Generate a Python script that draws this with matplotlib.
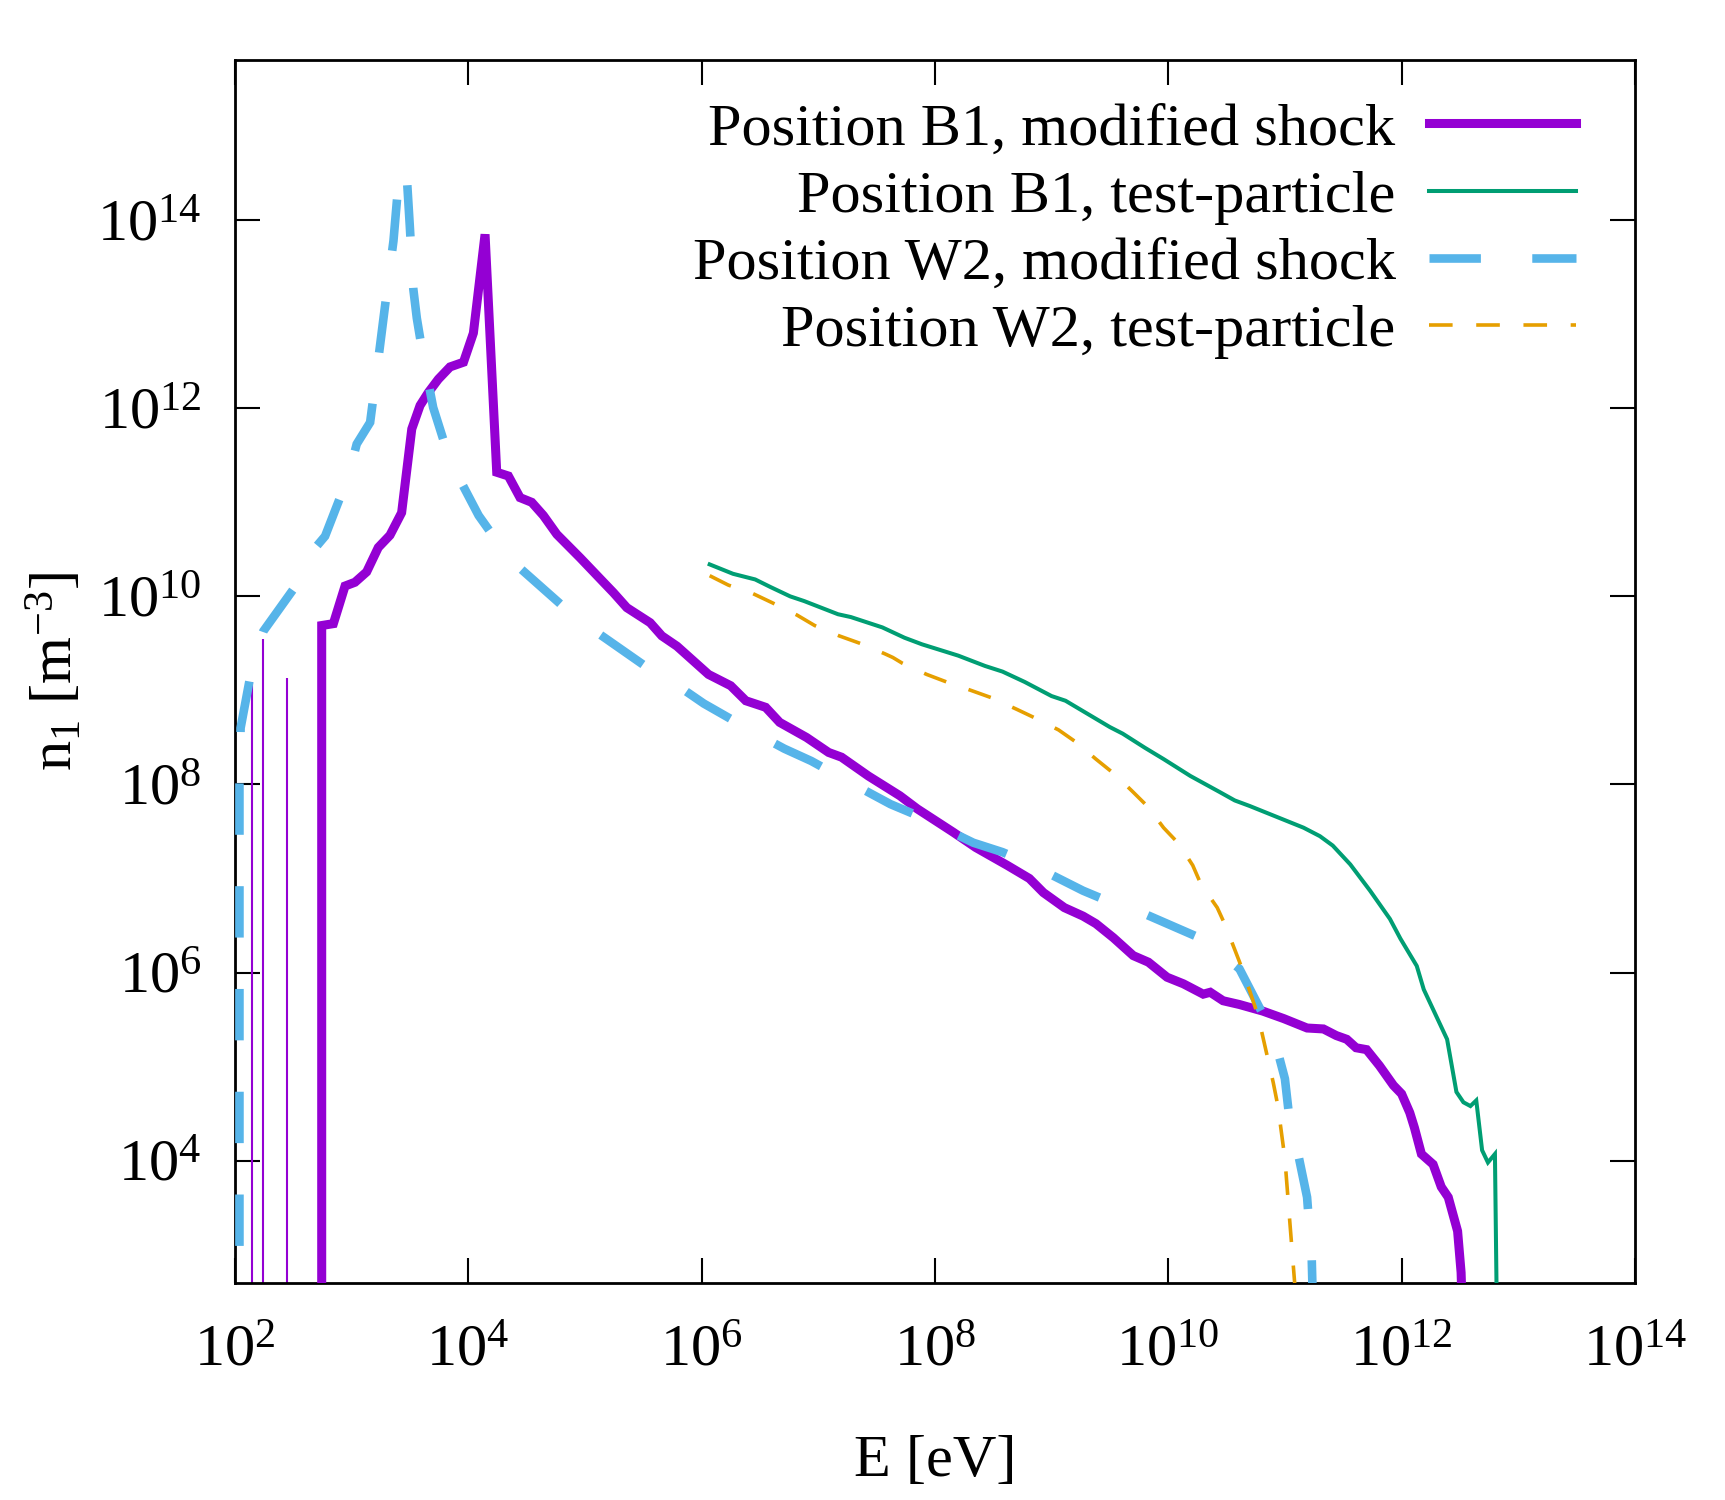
import numpy as np
import matplotlib
matplotlib.use("Agg")
import matplotlib.pyplot as plt
from matplotlib.ticker import FixedLocator, FuncFormatter

# ---------------- data (log10 values) ----------------
# Position B1, modified shock
b1_mod_logE = [2.745, 2.745, 2.845, 2.945, 3.03, 3.13, 3.23, 3.33, 3.43, 3.517, 3.588,
               3.66, 3.745, 3.845, 3.96, 4.045, 4.145, 4.245, 4.345, 4.445, 4.545,
               4.645, 4.76, 4.96, 5.16, 5.245, 5.36, 5.56, 5.66, 5.79, 6.06, 6.25,
               6.38, 6.55, 6.67, 6.90, 7.09, 7.20, 7.43, 7.70, 7.85, 8.16, 8.35, 8.62,
               8.81, 8.93, 9.11, 9.27, 9.38, 9.53, 9.70, 9.83, 9.99, 10.13, 10.30,
               10.36, 10.47, 10.61, 10.81, 10.99, 11.07, 11.19, 11.33, 11.44, 11.53,
               11.61, 11.70, 11.81, 11.93, 12.00, 12.07, 12.11, 12.17, 12.27, 12.34,
               12.40, 12.48, 12.51, 12.53]
b1_mod_logN = [2.0, 9.69, 9.71, 10.11, 10.15, 10.26, 10.52, 10.65, 10.89, 11.78, 12.03,
               12.17, 12.31, 12.44, 12.49, 12.80, 13.85, 11.32, 11.28, 11.05, 11.0,
               10.86, 10.66, 10.41, 10.15, 10.04, 9.88, 9.72, 9.58, 9.47, 9.17, 9.05,
               8.89, 8.82, 8.66, 8.50, 8.34, 8.29, 8.09, 7.88, 7.74, 7.49, 7.33, 7.14,
               7.0, 6.85, 6.69, 6.60, 6.52, 6.37, 6.18, 6.11, 5.95, 5.88, 5.77,
               5.79, 5.70, 5.66, 5.59, 5.51, 5.47, 5.41, 5.40, 5.33, 5.29,
               5.20, 5.18, 5.01, 4.80, 4.71, 4.51, 4.35, 4.07, 3.96, 3.72,
               3.61, 3.25, 2.81, 2.0]

# thin purple spikes at low energy (B1, modified shock)
b1_spike_logE = [2.146, 2.245, 2.446]
b1_spike_logN = [9.09, 9.55, 9.13]

# Position B1, test-particle
b1_tp_logE = [6.07, 6.27, 6.46, 6.59, 6.76, 6.88, 7.17, 7.28, 7.55, 7.74, 7.89, 8.20,
              8.43, 8.58, 8.77, 9.00, 9.12, 9.50, 9.61, 9.80, 9.96, 10.19, 10.44,
              10.57, 10.70, 10.90, 11.16, 11.30, 11.41, 11.56, 11.73, 11.90, 11.99,
              12.13, 12.19, 12.39, 12.47, 12.53, 12.59, 12.64, 12.69, 12.74, 12.80,
              12.82]
b1_tp_logN = [10.34, 10.24, 10.18, 10.10, 10.0, 9.95, 9.81, 9.78, 9.67, 9.56, 9.49, 9.37,
              9.26, 9.20, 9.09, 8.94, 8.89, 8.61, 8.54, 8.39, 8.27, 8.09, 7.92,
              7.83, 7.77, 7.67, 7.54, 7.45, 7.35, 7.15, 6.87, 6.57, 6.36,
              6.07, 5.82, 5.29, 4.73, 4.62, 4.58, 4.64, 4.11, 3.98, 4.07,
              2.0]

# Position W2, modified shock
w2_mod_logE = [2.04, 2.04, 2.05, 2.13, 2.174, 2.245, 2.545, 2.645, 2.774, 2.974, 3.045,
               3.16, 3.23, 3.29, 3.36, 3.40, 3.44, 3.47, 3.50, 3.53, 3.56, 3.60, 3.70,
               3.845, 4.09, 4.245, 4.39, 4.79, 4.96, 5.17, 5.62, 5.75, 6.02, 6.50,
               6.71, 6.94, 7.41, 7.62, 7.85, 8.33, 8.58, 8.79, 9.27, 9.54, 9.73,
               10.23, 10.32, 10.61, 10.86, 10.93, 11.0, 11.06, 11.11, 11.19, 11.23,
               11.25]
w2_mod_logN = [2.0, 8.0, 8.6, 9.13, 9.38, 9.63, 10.15, 10.45, 10.64, 11.28, 11.62,
               11.85, 12.52, 13.11, 13.78, 14.36, 14.38, 14.55, 13.94, 13.27, 12.96, 12.66, 12.01,
               11.44, 10.86, 10.59, 10.36, 9.92, 9.74, 9.56, 9.17, 9.09, 8.86, 8.52,
               8.38, 8.25, 7.93, 7.79, 7.67, 7.38, 7.28, 7.17, 6.87, 6.73, 6.66,
               6.39, 6.33, 6.04, 5.44, 5.20, 4.87, 4.21, 4.09, 3.61, 2.95,
               2.0]

# Position W2, test-particle
w2_tp_logE = [6.07, 6.23, 6.44, 6.61, 6.82, 6.97, 7.18, 7.36, 7.57, 7.64, 7.72, 7.93,
              8.10, 8.31, 8.49, 8.70, 8.87, 9.06, 9.21, 9.38, 9.54, 9.69, 9.82, 9.96,
              10.09, 10.21, 10.28, 10.42, 10.49, 10.64, 10.77, 10.90, 10.94, 11.00,
              11.04, 11.09]
w2_tp_logN = [10.22, 10.12, 10.03, 9.93, 9.80, 9.69, 9.58, 9.50, 9.39, 9.35, 9.29, 9.17,
              9.09, 9.0, 8.92, 8.80, 8.70, 8.58, 8.45, 8.27, 8.11, 7.93, 7.77, 7.54,
              7.37, 7.14, 6.94, 6.69, 6.50, 6.02, 5.54, 4.83, 4.58, 4.02,
              3.38, 2.6]

labels = ["Position B1, modified shock", "Position B1, test-particle",
          "Position W2, modified shock", "Position W2, test-particle"]
colors = ["#9400D3", "#009E73", "#56B4E9", "#E69F00"]

x_tick_exp = [2, 4, 6, 8, 10, 12, 14]
y_tick_exp = [4, 6, 8, 10, 12, 14]
x_lim = (1e2, 1e14)
y_lim = (5e2, 5e15)

# ---------------- style ----------------
plt.rcParams['font.family'] = ['Liberation Serif', 'DejaVu Serif']
plt.rcParams['mathtext.fontset'] = 'custom'
plt.rcParams['mathtext.rm'] = 'Liberation Serif'
plt.rcParams['mathtext.it'] = 'Liberation Serif:italic'
plt.rcParams['lines.scale_dashes'] = False

FS = 43.5

fig = plt.figure(figsize=(17.25, 15), dpi=100)
ax = fig.add_axes([0.1361, 0.1447, 0.9478 - 0.1361, 0.9597 - 0.1447])

def pw(a):
    return np.power(10.0, np.asarray(a, dtype=float))

ax.vlines(pw(b1_spike_logE), 1e2, pw(b1_spike_logN), colors=colors[0], lw=1.5, zorder=2)
ax.plot(pw(b1_mod_logE), pw(b1_mod_logN), color=colors[0], lw=6.5,
        solid_joinstyle='miter', label=labels[0], zorder=3)
ax.plot(pw(b1_tp_logE), pw(b1_tp_logN), color=colors[1], lw=2.9,
        solid_joinstyle='miter', label=labels[1], zorder=4)
ax.plot(pw(w2_mod_logE), pw(w2_mod_logN), color=colors[2], lw=6.2,
        linestyle=(0, (37, 37)), dash_capstyle='butt', dash_joinstyle='miter',
        label=labels[2], zorder=5)
ax.plot(pw(w2_tp_logE), pw(w2_tp_logN), color=colors[3], lw=2.6,
        linestyle=(0, (17, 17)), dash_capstyle='butt', label=labels[3], zorder=6)

ax.set_xscale('log')
ax.set_yscale('log')
ax.set_xlim(*x_lim)
ax.set_ylim(*y_lim)

fmt = FuncFormatter(lambda v, p: r'$\mathregular{10^{%d}}$' % int(round(np.log10(v))))
ax.xaxis.set_major_locator(FixedLocator(pw(x_tick_exp)))
ax.yaxis.set_major_locator(FixedLocator(pw(y_tick_exp)))
ax.xaxis.set_major_formatter(fmt)
ax.yaxis.set_major_formatter(fmt)
ax.xaxis.set_minor_locator(FixedLocator([]))
ax.yaxis.set_minor_locator(FixedLocator([]))

ax.tick_params(which='major', direction='in', length=18, width=1.5,
               top=True, right=True, labelsize=FS, colors='black')
ax.tick_params(axis='x', pad=30)
ax.tick_params(axis='y', pad=24)
for s in ax.spines.values():
    s.set_linewidth(2.0)

ax.set_xlabel('E [eV]', fontsize=FS)
ax.xaxis.set_label_coords(0.5, -0.124)
ax.set_ylabel(r'$\mathregular{n_1\ [m^{-3}]}$', fontsize=FS)
ax.yaxis.set_label_coords(-0.107, 0.5)

leg = ax.legend(loc='upper right', bbox_to_anchor=(0.958, 0.966), markerfirst=False,
                frameon=False, fontsize=FS, handlelength=2.44, handletextpad=0.55,
                labelspacing=0.2, borderpad=0, borderaxespad=0)

fig.savefig('out.png', dpi=100)
